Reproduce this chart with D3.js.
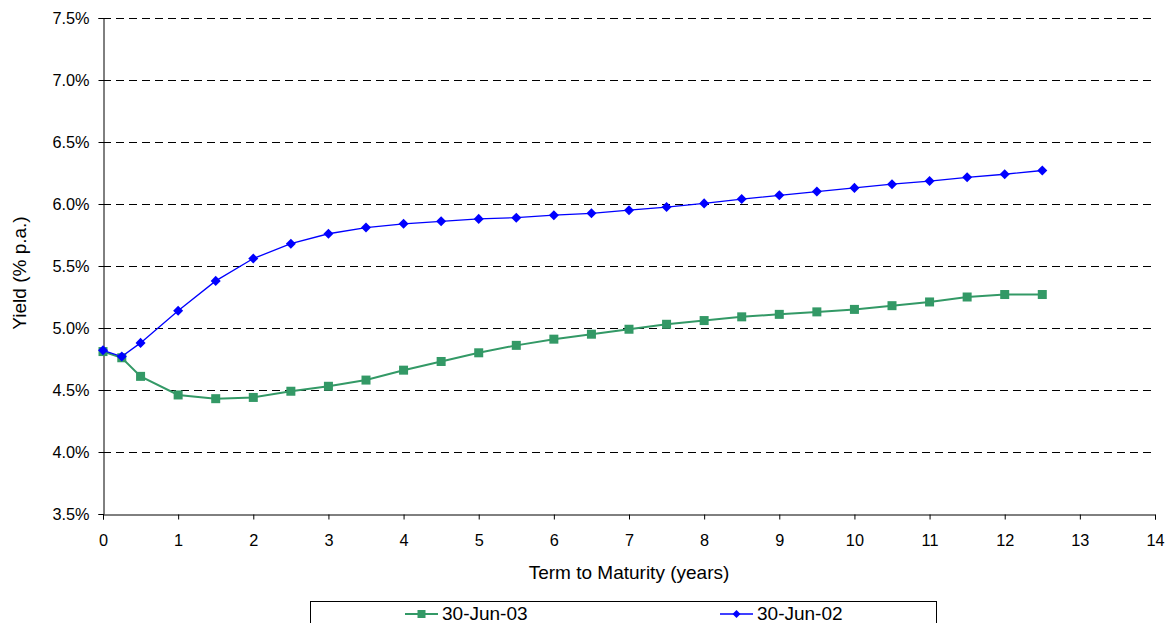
<!DOCTYPE html>
<html>
<head>
<meta charset="utf-8">
<script src="https://cdn.jsdelivr.net/npm/d3@7/dist/d3.min.js"></script>
<style>
  html, body { margin: 0; padding: 0; background: #fff; }
  svg { display: block; font-family: "Liberation Sans", Arial, sans-serif; }
</style>
</head>
<body>
<svg id="chart" width="1165" height="623"></svg>
<script>
// Terms to maturity (years)
const terms = [0, 0.25, 0.5, 1, 1.5, 2, 2.5, 3, 3.5, 4, 4.5, 5, 5.5, 6, 6.5, 7, 7.5, 8, 8.5, 9, 9.5, 10, 10.5, 11, 11.5, 12, 12.5];

// Yield curve, 30 June 2003 (% p.a.)
const yields2003 = [4.81, 4.76, 4.61, 4.46, 4.43, 4.44, 4.49, 4.53, 4.58, 4.66, 4.73, 4.80, 4.86, 4.91, 4.95, 4.99, 5.03, 5.06, 5.09, 5.11, 5.13, 5.15, 5.18, 5.21, 5.25, 5.27, 5.27];

// Yield curve, 30 June 2002 (% p.a.)
const yields2002 = [4.82, 4.77, 4.88, 5.14, 5.38, 5.56, 5.68, 5.76, 5.81, 5.84, 5.86, 5.88, 5.89, 5.91, 5.925, 5.95, 5.975, 6.005, 6.04, 6.07, 6.10, 6.13, 6.16, 6.185, 6.215, 6.24, 6.27];

const seriesNames = ["30-Jun-03", "30-Jun-02"];
const xTicks = d3.range(0, 15, 1);
const yTicks = [3.5, 4.0, 4.5, 5.0, 5.5, 6.0, 6.5, 7.0, 7.5];

const svg = d3.select("#chart");
const plotLeft = 103, plotRight = 1155, plotTop = 18, plotBottom = 514;
const tickFont = 16.3, titleFont = 19;

const x = d3.scaleLinear().domain([0, 14]).range([plotLeft, plotRight]);
const y = d3.scaleLinear().domain([3.5, 7.5]).range([plotBottom, plotTop]);

// Dashed horizontal gridlines
svg.append("g")
  .selectAll("line")
  .data(yTicks.filter(v => v > 3.5))
  .join("line")
  .attr("x1", plotLeft).attr("x2", plotRight)
  .attr("y1", d => Math.round(y(d)) + 0.5).attr("y2", d => Math.round(y(d)) + 0.5)
  .attr("stroke", "#000").attr("stroke-width", 1)
  .attr("stroke-dasharray", "8,5");

// Y axis
const yAxis = svg.append("g")
  .attr("transform", `translate(${plotLeft + 0.5},0)`)
  .call(d3.axisLeft(y).tickValues(yTicks).tickSize(5).tickPadding(9)
    .tickFormat(d => d3.format(".1f")(d) + "%"));
yAxis.select(".domain").attr("stroke", "#000");
yAxis.selectAll(".tick line").attr("stroke", "#000");
yAxis.selectAll("text").attr("font-size", tickFont).attr("fill", "#000")
  .attr("font-family", "Liberation Sans, Arial, sans-serif");

// X axis
const xAxis = svg.append("g")
  .attr("transform", `translate(0,${plotBottom + 0.5})`)
  .call(d3.axisBottom(x).tickValues(xTicks).tickSize(5).tickPadding(15)
    .tickFormat(d3.format("d")));
xAxis.select(".domain").attr("stroke", "#000");
xAxis.selectAll(".tick line").attr("stroke", "#000");
xAxis.selectAll("text").attr("font-size", tickFont).attr("fill", "#000")
  .attr("font-family", "Liberation Sans, Arial, sans-serif");

// Axis titles
svg.append("text")
  .attr("x", x(7)).attr("y", 579)
  .attr("text-anchor", "middle").attr("font-size", titleFont)
  .text("Term to Maturity (years)");

svg.append("text")
  .attr("transform", "translate(26,273) rotate(-90)")
  .attr("text-anchor", "middle").attr("font-size", titleFont)
  .text("Yield (% p.a.)");

const line = d3.line().x((d, i) => x(terms[i])).y(d => y(d));

const green = "#339966";
const blue = "#0000FF";

// 2003 series: green line with square markers
svg.append("path").datum(yields2003)
  .attr("d", line).attr("fill", "none")
  .attr("stroke", green).attr("stroke-width", 2);
svg.append("g").selectAll("rect")
  .data(yields2003)
  .join("rect")
  .attr("x", (d, i) => x(terms[i]) - 4.5)
  .attr("y", d => y(d) - 4.5)
  .attr("width", 9).attr("height", 9)
  .attr("fill", green);

// 2002 series: blue line with diamond markers
const diamond = d3.symbol().type(d3.symbolDiamond2).size(64);
svg.append("path").datum(yields2002)
  .attr("d", line).attr("fill", "none")
  .attr("stroke", blue).attr("stroke-width", 1.3);
svg.append("g").selectAll("path")
  .data(yields2002)
  .join("path")
  .attr("d", diamond)
  .attr("transform", (d, i) => `translate(${x(terms[i])},${y(d)})`)
  .attr("fill", blue);

// Legend
const legend = svg.append("g");
legend.append("rect")
  .attr("x", 310.5).attr("y", 601.5)
  .attr("width", 626).attr("height", 40)
  .attr("fill", "#fff").attr("stroke", "#000").attr("stroke-width", 1);

const legendItems = [
  { name: seriesNames[0], color: green, x0: 405, shape: "square", width: 2 },
  { name: seriesNames[1], color: blue, x0: 720, shape: "diamond", width: 1.3 }
];
const ly = 614;
legendItems.forEach(it => {
  legend.append("line")
    .attr("x1", it.x0).attr("x2", it.x0 + 33)
    .attr("y1", ly).attr("y2", ly)
    .attr("stroke", it.color).attr("stroke-width", it.width);
  if (it.shape === "square") {
    legend.append("rect")
      .attr("x", it.x0 + 16.5 - 4).attr("y", ly - 4)
      .attr("width", 8).attr("height", 8).attr("fill", it.color);
  } else {
    legend.append("path")
      .attr("d", d3.symbol().type(d3.symbolDiamond2).size(40))
      .attr("transform", `translate(${it.x0 + 16.5},${ly})`)
      .attr("fill", it.color);
  }
  legend.append("text")
    .attr("x", it.x0 + 37).attr("y", 620)
    .attr("font-size", titleFont).text(it.name);
});
</script>
</body>
</html>
